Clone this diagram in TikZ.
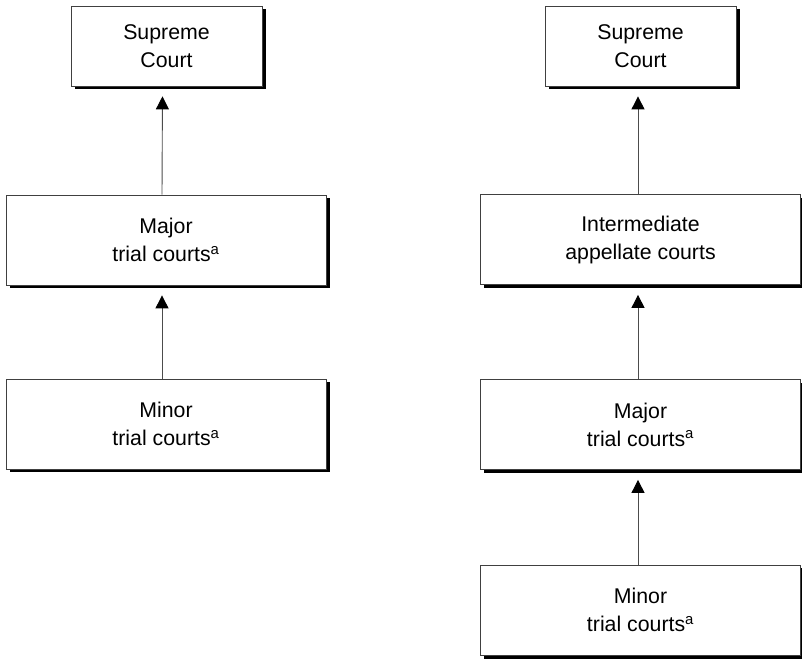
\documentclass[tikz,border=0pt]{standalone}
\usepackage{fontspec}
\setmainfont{Liberation Sans}
\usetikzlibrary{shadows,arrows.meta}
\begin{document}
\begin{tikzpicture}[x=1pt,y=1pt,
  court/.style={draw=black!75, line width=0.8pt, fill=white, align=center,
    inner sep=0pt, font=\fontsize{21.3}{28}\selectfont,
    drop shadow={shadow xshift=3.5pt, shadow yshift=-3.5pt, fill=black, opacity=1}},
  small/.style={court, minimum width=191pt, minimum height=80pt},
  wide/.style={court, minimum width=320pt, minimum height=90pt},
  up/.style={draw=black!70, line width=0.9pt, -{Triangle[width=13pt,length=13pt,black]}, shorten >=10pt}
]
\useasboundingbox (0,0) rectangle (802,658);
% left column
\node[small] (lsc) at (166.5,612) {Supreme\\Court};
\node[wide] (lmaj) at (166,418) {Major\\trial courts\textsuperscript{a}};
\node[wide] (lmin) at (166,234) {Minor\\trial courts\textsuperscript{a}};
% right column
\node[small] (rsc) at (640.5,612) {Supreme\\Court};
\node[wide] (rint) at (640.5,418.5) {Intermediate\\appellate courts};
\node[wide] (rmaj) at (640.5,233.5) {Major\\trial courts\textsuperscript{a}};
\node[wide] (rmin) at (640.5,48) {Minor\\trial courts\textsuperscript{a}};
% arrows
\draw[up] ([xshift=-4pt]lmaj.north) -- ([xshift=-4pt]lsc.south);
\draw[up] ([xshift=-4pt]lmin.north) -- ([xshift=-4pt]lmaj.south);
\draw[up] ([xshift=-2.5pt]rint.north) -- ([xshift=-2.5pt]rsc.south);
\draw[up] ([xshift=-2.5pt]rmaj.north) -- ([xshift=-2.5pt]rint.south);
\draw[up] ([xshift=-2.5pt]rmin.north) -- ([xshift=-2.5pt]rmaj.south);
\end{tikzpicture}
\end{document}
